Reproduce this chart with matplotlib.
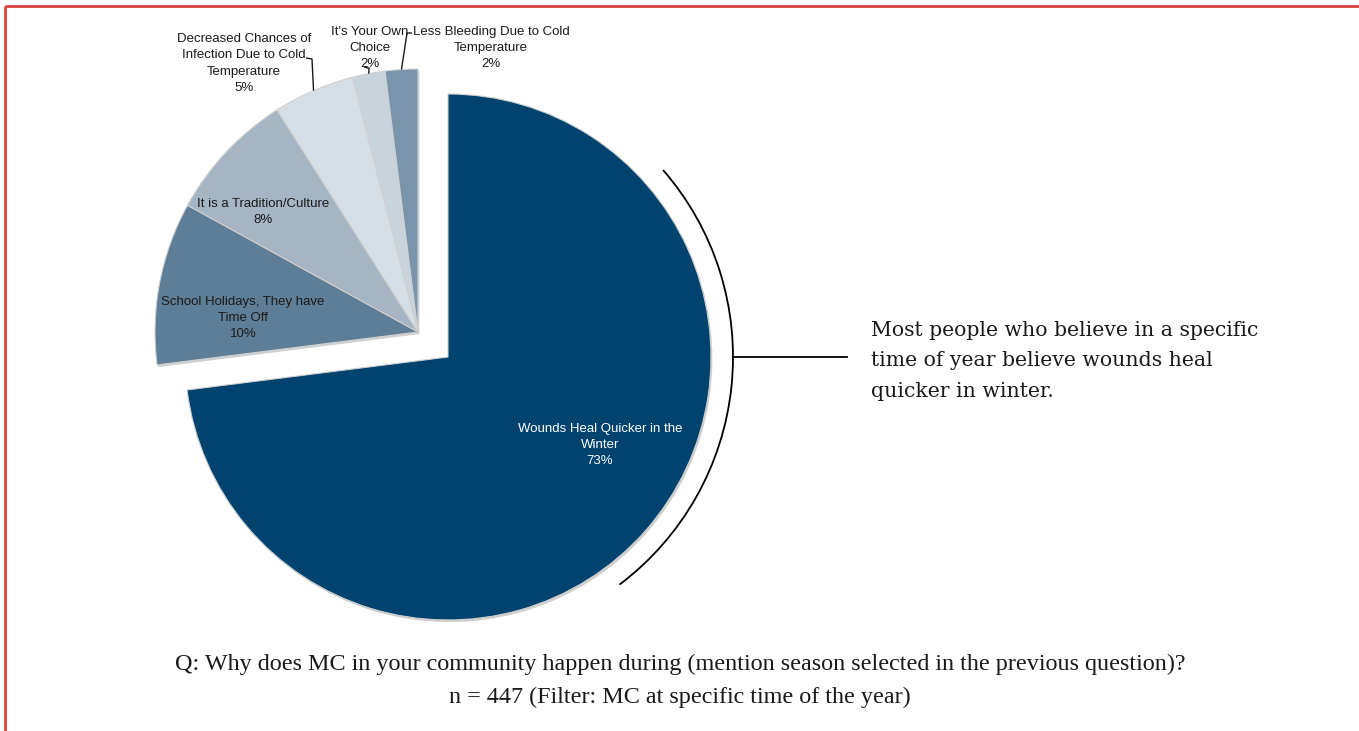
import matplotlib
matplotlib.use("Agg")
import matplotlib.pyplot as plt
from matplotlib.patches import Arc
import matplotlib.patheffects as pe
import numpy as np

# Survey answers: reasons MC happens at a specific time of year
categories = [
    "Wounds Heal Quicker in the\nWinter",
    "School Holidays, They have\nTime Off",
    "It is a Tradition/Culture",
    "Decreased Chances of\nInfection Due to Cold\nTemperature",
    "It's Your Own\nChoice",
    "Less Bleeding Due to Cold\nTemperature",
]
shares = [73, 10, 8, 5, 2, 2]
colors = ["#00436F", "#5E7E98", "#A5B5C3", "#D6DEE5", "#C8D3DC", "#7A95AB"]

title_q = ("Q: Why does MC in your community happen during "
           "(mention season selected in the previous question)?")
title_n = "n = 447 (Filter: MC at specific time of the year)"
callout = ("Most people who believe in a specific\n"
           "time of year believe wounds heal\n"
           "quicker in winter.")

W, H = 1359, 731
fig = plt.figure(figsize=(W / 100, H / 100), dpi=100)
ax = fig.add_axes([0, 0, 1, 1])


def py(y):
    """Pixel row (from top) to data y (from bottom)."""
    return H - y


center = np.array([448.0, py(357)])
radius = 263
shift = np.array([-30.0, 25.0])   # the minor answers are pulled out as a group

wedges, _ = ax.pie(
    shares, colors=colors, startangle=90, counterclock=False,
    center=tuple(center), radius=radius,
    wedgeprops=dict(edgecolor="#d0d0d0", linewidth=0.8),
)
for w in wedges:
    w.set_path_effects([pe.SimplePatchShadow(offset=(1, -1.5), shadow_rgbFace="#777777", alpha=0.35),
                        pe.Normal()])
for w in wedges[1:]:
    w.set_center(tuple(center + shift))

# Slice labels
sans = "Liberation Sans"
label_pos = {0: (600, 445), 1: (243, 318), 2: (263, 212),
             3: (244, 63.5), 4: (370, 48), 5: (491, 48)}
for i, (x, y) in label_pos.items():
    ax.text(x, py(y), f"{categories[i]}\n{shares[i]}%", ha="center", va="center",
            fontsize=9.5, family=sans, linespacing=1.47,
            color="white" if i == 0 else "#1a1a1a")

# Leader lines from the outer labels to their wedges
elbows = {3: [(306, 58), (312, 59)], 4: [(364, 67), (369, 68)], 5: [(412, 33), (407, 33)]}
for i, pts in elbows.items():
    w = wedges[i]
    mid = np.deg2rad((w.theta1 + w.theta2) / 2)
    cx, cy = w.center
    ex, ey = cx + w.r * np.cos(mid), cy + w.r * np.sin(mid)
    xs = [p[0] for p in pts] + [ex]
    ys = [py(p[1]) for p in pts] + [ey]
    ax.plot(xs, ys, color="#1a1a1a", lw=1.0, solid_capstyle="butt")

# Callout bracket around the dominant slice
ax.add_patch(Arc(tuple(center), 2 * 285, 2 * 285, theta1=-53, theta2=41,
                 color="black", lw=1.3))
ax.plot([center[0] + 285, 847], [center[1], center[1]], color="black", lw=1.3)
ax.text(871, py(361), callout, ha="left", va="center", fontsize=14.7,
        family="DejaVu Serif", linespacing=1.78, color="#1a1a1a")

# Question and sample size
ax.text(680, py(664), title_q, ha="center", va="center", fontsize=17.4,
        family="Liberation Serif", color="#1a1a1a")
ax.text(680, py(697), title_n, ha="center", va="center", fontsize=17.4,
        family="Liberation Serif", color="#1a1a1a")

# Frame lines
ax.plot([5, W], [py(6), py(6)], color="#D9443F", lw=2, solid_capstyle="butt")
ax.plot([5, 5], [py(6), 0], color="#D9443F", lw=2, solid_capstyle="butt")

ax.set_xlim(0, W)
ax.set_ylim(0, H)
ax.set_aspect("auto")
ax.set_axis_off()

fig.savefig("out.png", dpi=100)
